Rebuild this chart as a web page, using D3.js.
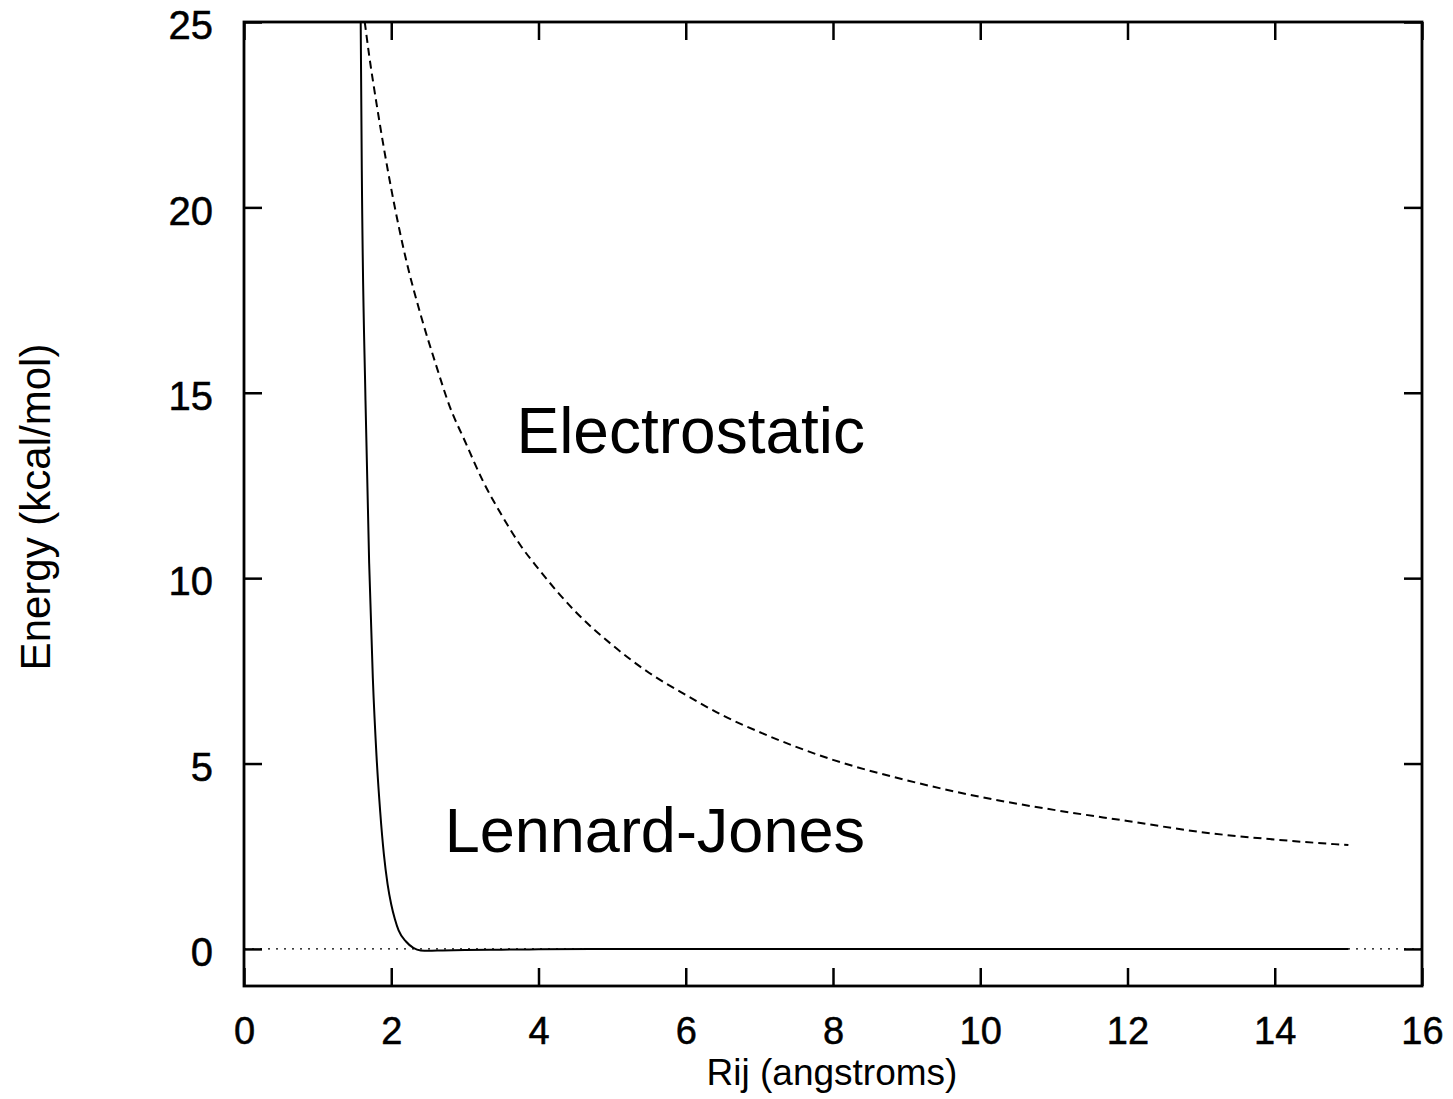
<!DOCTYPE html>
<html>
<head>
<meta charset="utf-8">
<script src="https://cdn.jsdelivr.net/npm/d3@7"></script>
<style>
  html, body { margin: 0; padding: 0; background: #fff; }
  svg { display: block; }
  text { font-family: "Liberation Sans", Arial, Helvetica, sans-serif; fill: #000; }
</style>
</head>
<body>
<svg id="chart" width="1453" height="1099"></svg>
<script>
// Interatomic distance (angstroms) and energies (kcal/mol)
const ljR = [1.585, 1.60, 1.65, 1.70, 1.75, 1.80, 1.85, 1.90, 1.95, 2.00, 2.05, 2.10, 2.20, 2.30, 2.40, 2.50, 2.70, 3.00, 3.50, 4.00, 5.00, 7.00, 10.00, 15.00];
const ljE = [25.0, 21.0, 14.8, 10.4, 7.3, 5.2, 3.7, 2.55, 1.75, 1.2, 0.8, 0.5, 0.2, 0.03, -0.04, -0.05, -0.04, -0.03, -0.02, -0.01, 0.0, 0.0, 0.0, 0.0];

const elR = [1.64, 1.70, 1.80, 1.90, 2.00, 2.20, 2.40, 2.60, 2.80, 3.00, 3.25, 3.50, 3.75, 4.00, 4.50, 5.00, 5.50, 6.00, 6.50, 7.00, 7.50, 8.00, 9.00, 10.00, 11.00, 12.00, 13.00, 14.00, 15.00];
const elE = [25.0, 24.1, 22.8, 21.6, 20.5, 18.6, 17.1, 15.8, 14.6, 13.7, 12.6, 11.7, 10.9, 10.25, 9.1, 8.2, 7.45, 6.85, 6.3, 5.85, 5.45, 5.1, 4.55, 4.1, 3.75, 3.45, 3.15, 2.95, 2.8];

const zeroR = [0, 16];
const zeroE = [0, 0];

const xTicks = [0, 2, 4, 6, 8, 10, 12, 14, 16];
const yTicks = [0, 5, 10, 15, 20, 25];

const xTitle = "Rij (angstroms)";
const yTitle = "Energy (kcal/mol)";
const labelElectro = "Electrostatic";
const labelLJ = "Lennard-Jones";

const svg = d3.select("#chart");
const plotL = 244, plotR = 1422, plotT = 22, plotB = 986;

const x = d3.scaleLinear().domain([0, 16]).range([plotL, plotR]);
const y = d3.scaleLinear().domain([-1, 25]).range([plotB, plotT]);

svg.append("defs").append("clipPath").attr("id", "plotClip")
  .append("rect").attr("x", plotL).attr("y", plotT).attr("width", plotR - plotL).attr("height", plotB - plotT);

const plot = svg.append("g").attr("clip-path", "url(#plotClip)");

const line = d3.line().x(d => x(d[0])).y(d => y(d[1])).curve(d3.curveMonotoneX);

// zero reference (dotted)
plot.append("path")
  .datum(zeroR.map((r, i) => [r, zeroE[i]]))
  .attr("d", line)
  .attr("fill", "none").attr("stroke", "#000").attr("stroke-width", 1.4)
  .attr("stroke-dasharray", "2,6");

// Lennard-Jones (solid)
plot.append("path")
  .datum(ljR.map((r, i) => [r, ljE[i]]))
  .attr("d", line)
  .attr("fill", "none").attr("stroke", "#000").attr("stroke-width", 2);

// Electrostatic (dashed)
plot.append("path")
  .datum(elR.map((r, i) => [r, elE[i]]))
  .attr("d", line)
  .attr("fill", "none").attr("stroke", "#000").attr("stroke-width", 2)
  .attr("stroke-dasharray", "8,5");

// axes with inward ticks on all four sides
const tickLen = 18;
const fmt = d3.format("d");

const axB = svg.append("g").attr("transform", `translate(0,${plotB})`)
  .call(d3.axisBottom(x).tickValues(xTicks).tickSize(-tickLen).tickPadding(tickLen + 13).tickFormat(fmt));
const axT = svg.append("g").attr("transform", `translate(0,${plotT})`)
  .call(d3.axisTop(x).tickValues(xTicks).tickSize(-tickLen).tickFormat(""));
const axL = svg.append("g").attr("transform", `translate(${plotL},0)`)
  .call(d3.axisLeft(y).tickValues(yTicks).tickSize(-tickLen).tickPadding(tickLen + 13).tickFormat(fmt));
const axR = svg.append("g").attr("transform", `translate(${plotR},0)`)
  .call(d3.axisRight(y).tickValues(yTicks).tickSize(-tickLen).tickFormat(""));

[axB, axT, axL, axR].forEach(g => {
  g.select(".domain").remove();
  g.selectAll(".tick line").attr("stroke", "#000").attr("stroke-width", 2.5);
});

axB.selectAll(".tick text")
  .style("font-family", '"Liberation Sans", Arial, sans-serif')
  .attr("font-size", 38).attr("fill", "#000").attr("dy", "0.71em")
  .attr("stroke", "#000").attr("stroke-width", 0.5);
axL.selectAll(".tick text")
  .style("font-family", '"Liberation Sans", Arial, sans-serif')
  .attr("font-size", 40).attr("fill", "#000").attr("dy", "0.42em")
  .attr("stroke", "#000").attr("stroke-width", 0.5);

// frame
svg.append("rect")
  .attr("x", plotL).attr("y", plotT).attr("width", plotR - plotL).attr("height", plotB - plotT)
  .attr("fill", "none").attr("stroke", "#000").attr("stroke-width", 2.8);

// axis titles
svg.append("text")
  .attr("x", (plotL + plotR) / 2 - 1).attr("y", 1085)
  .attr("text-anchor", "middle").attr("font-size", 37)
  .text(xTitle);

svg.append("text")
  .attr("transform", "translate(50,507) rotate(-90)")
  .attr("text-anchor", "middle").attr("font-size", 42)
  .text(yTitle);

// curve labels
svg.append("text")
  .attr("x", 865).attr("y", 453)
  .attr("text-anchor", "end").attr("font-size", 64)
  .text(labelElectro);

svg.append("text")
  .attr("x", 865).attr("y", 852)
  .attr("text-anchor", "end").attr("font-size", 63)
  .text(labelLJ);
</script>
</body>
</html>
